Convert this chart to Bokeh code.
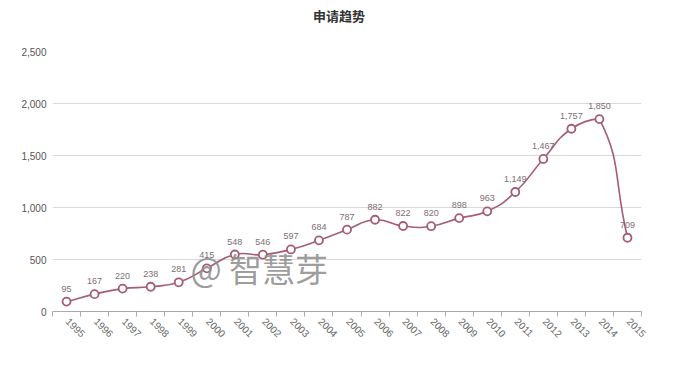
import math
from bokeh.plotting import figure
from bokeh.models import (ColumnDataSource, LabelSet, Label, FixedTicker,
                          NumeralTickFormatter, Range1d)
from bokeh.core.properties import value
from bokeh.embed import file_html
from bokeh.resources import INLINE

title_text = "申请趋势"
watermark = "@ 智慧芽"
years = ["1995", "1996", "1997", "1998", "1999", "2000", "2001", "2002", "2003",
         "2004", "2005", "2006", "2007", "2008", "2009", "2010", "2011", "2012",
         "2013", "2014", "2015"]
counts = [95, 167, 220, 238, 281, 415, 548, 546, 597, 684, 787, 882, 822, 820,
          898, 963, 1149, 1467, 1757, 1850, 709]
y_ticks = [0, 500, 1000, 1500, 2000, 2500]

LINE = "#a55c74"
xs = list(range(len(years)))
n = len(xs)

# frame reaches the top of the canvas; 2,500 sits 51px below it (260px per 2,500)
y_top = y_ticks[-1] * 311 / 260
p = figure(width=677, height=372, output_backend="svg", toolbar_location=None,
           x_range=Range1d(-0.5, n - 0.5), y_range=Range1d(0, y_top),
           min_border_left=52, min_border_right=36, min_border_top=0,
           min_border_bottom=61)
p.outline_line_color = None
p.background_fill_color = "white"
p.border_fill_color = "white"

# smooth line via bezier segments (echarts-like smoothing, clamped to data bounds)
sx, sy = 28.05, 0.104  # approximate pixels per data unit, for tangent weighting
smooth = 0.5
ymin, ymax = min(counts), max(counts)
cps_in, cps_out = [], []
for i in range(n):
    cur = (xs[i], counts[i])
    prv = (xs[max(i - 1, 0)], counts[max(i - 1, 0)])
    nxt = (xs[min(i + 1, n - 1)], counts[min(i + 1, n - 1)])
    vx, vy = nxt[0] - prv[0], nxt[1] - prv[1]
    d0 = math.hypot((cur[0] - prv[0]) * sx, (cur[1] - prv[1]) * sy)
    d1 = math.hypot((nxt[0] - cur[0]) * sx, (nxt[1] - cur[1]) * sy)
    s = d0 + d1 if d0 + d1 > 0 else 1
    a = (cur[0] - vx * smooth * d0 / s, cur[1] - vy * smooth * d0 / s)
    b = (cur[0] + vx * smooth * d1 / s, cur[1] + vy * smooth * d1 / s)
    a = (a[0], min(max(a[1], ymin), ymax))
    b = (b[0], min(max(b[1], ymin), ymax))
    cps_in.append(a)
    cps_out.append(b)
p.bezier(x0=xs[:-1], y0=counts[:-1], x1=xs[1:], y1=counts[1:],
         cx0=[c[0] for c in cps_out[:-1]], cy0=[c[1] for c in cps_out[:-1]],
         cx1=[c[0] for c in cps_in[1:]], cy1=[c[1] for c in cps_in[1:]],
         line_color=LINE, line_width=1.6)

src = ColumnDataSource(dict(x=xs, y=counts, lab=[f"{v:,}" for v in counts]))
p.scatter("x", "y", source=src, size=8, marker="circle", fill_color="white",
          line_color=LINE, line_width=1.8)
p.add_layout(LabelSet(x="x", y="y", text="lab", source=src, y_offset=10,
                      text_align="center", text_baseline="bottom",
                      text_font=value("Liberation Sans"), text_font_size="9px",
                      text_color="#7d6e74"))

# axes
p.yaxis.ticker = FixedTicker(ticks=y_ticks)
p.yaxis.formatter = NumeralTickFormatter(format="0,0")
p.yaxis.axis_line_color = None
p.yaxis.major_tick_line_color = None
p.yaxis.major_tick_out = 0
p.yaxis.major_tick_in = 0
p.yaxis.minor_tick_line_color = None
p.yaxis.major_label_standoff = 6
p.yaxis.major_label_text_font = "Liberation Sans"
p.yaxis.major_label_text_font_size = "10px"
p.yaxis.major_label_text_color = "#555555"

label_pos = [i + 0.05 for i in xs]
p.xaxis.ticker = FixedTicker(ticks=label_pos, minor_ticks=[i - 0.5 for i in range(n + 1)])
p.xaxis.major_label_overrides = {pos: y for pos, y in zip(label_pos, years)}
p.xaxis.major_tick_line_color = None
p.xaxis.minor_tick_line_color = "#aaaaaa"
p.xaxis.minor_tick_in = 0
p.xaxis.minor_tick_out = 5
p.xaxis.axis_line_color = "#aaaaaa"
p.xaxis.major_label_orientation = -math.pi / 4
p.xaxis.major_label_standoff = 2
p.xaxis.major_label_text_font = "Liberation Sans"
p.xaxis.major_label_text_font_size = "10px"
p.xaxis.major_label_text_color = "#666666"

p.xgrid.grid_line_color = None
p.ygrid.ticker = FixedTicker(ticks=y_ticks[1:-1])
p.ygrid.grid_line_color = "#d9d9d9"

p.add_layout(Label(x=(n - 1) / 2, y=2846, x_offset=-8, text=title_text,
                   text_align="center", text_baseline="middle",
                   text_font="Noto Sans CJK SC", text_font_size="13px",
                   text_font_style="bold", text_color="#333333"))
p.add_layout(Label(x=4.42, y=420, text=watermark, text_align="left",
                   text_baseline="middle", text_font="Noto Sans CJK SC",
                   text_font_size="33px", text_color="#8c8c8c", text_alpha=0.85))

open("out.html", "w").write(file_html(p, INLINE))
